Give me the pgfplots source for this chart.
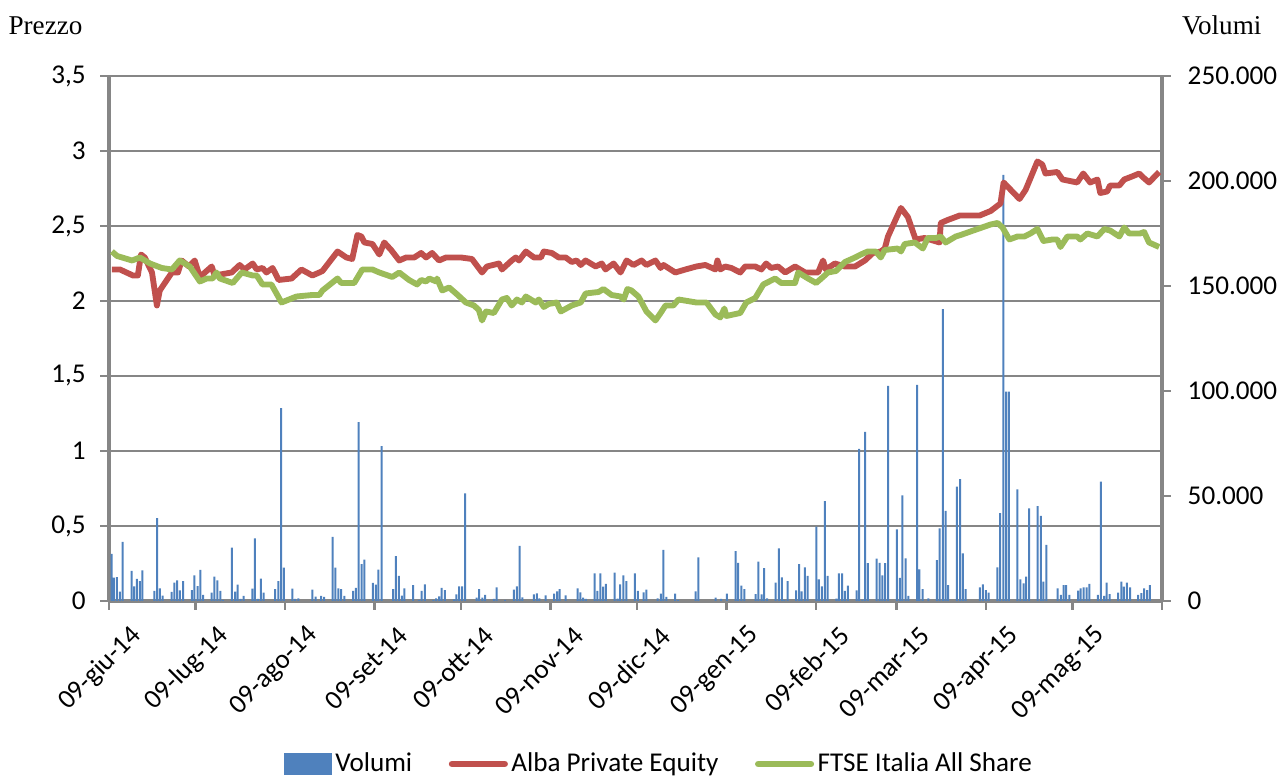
\documentclass[border=0pt]{standalone}
\usepackage{pgfplots}
\pgfplotsset{compat=1.18}
\usepackage{fontspec}
\setmainfont{Carlito}
\newfontfamily\timesfont{Liberation Serif}
\definecolor{cvol}{HTML}{4F81BD}
\definecolor{calba}{HTML}{C0504D}
\definecolor{cftse}{HTML}{9BBB59}
\definecolor{cgrid}{HTML}{868686}
\pgfplotsset{
  base/.style={
    at={(38.15pt,61.6pt)}, anchor=south west,
    scale only axis, width=368.55pt, height=183.75pt,
    xmin=0, xmax=365,
    font=\fontsize{9.5}{11}\selectfont,
    /pgf/number format/assume math mode=true,
    tick style={cgrid, line width=0.9pt},
    major tick length=3pt,
    tick align=outside,
  }
}
\begin{document}
\begin{tikzpicture}
\path[use as bounding box] (0pt,0pt) rectangle (446.95pt,271.95pt);
% axis 1: grid, left axis, x axis
\begin{axis}[base,
  ymin=0, ymax=3.5, ytick={0,0.5,...,3.5},
  /pgf/number format/use comma, /pgf/number format/fixed,
  ymajorgrids, grid style={cgrid, line width=0.75pt},
  axis x line*=bottom, axis y line*=left,
  axis line style={cgrid, line width=1.1pt, -},
  xtick={0,30,61,92,122,153,183,214,245,273,304,334,365},
  xticklabels={09-giu-14,09-lug-14,09-ago-14,09-set-14,09-ott-14,09-nov-14,09-dic-14,09-gen-15,09-feb-15,09-mar-15,09-apr-15,09-mag-15,{}},
  xticklabel style={rotate=45, anchor=east, inner sep=0pt, xshift=1.75pt, yshift=-12.5pt},
  yticklabel style={inner sep=0pt, xshift=-5pt},
]
\addplot[draw=none] coordinates {(0,0)};
\end{axis}
% axis 2: volumes, right axis
\begin{axis}[base,
  ymin=0, ymax=250000, ytick={0,50000,100000,150000,200000,250000},
  scaled y ticks=false,
  /pgf/number format/fixed, /pgf/number format/1000 sep={.},
  axis y line*=right, axis x line=none,
  axis line style={cgrid, line width=1.1pt, -},
  yticklabel style={inner sep=0pt, xshift=5.8pt},
  ybar, bar width=0.7pt,
]
\addplot[fill=cvol, draw=none] coordinates {
(0.9,22400)(1.7,11100)(2.7,11400)(3.8,4400)(4.7,28200)(7.8,14300)(8.7,7000)(9.7,10500)(10.7,9400)(11.6,14600)
(15.7,4800)(16.7,39400)(17.6,6000)(18.6,2500)(21.7,4300)(22.7,8700)(23.6,9800)(24.6,5100)(25.7,9400)
(28.7,5200)(29.6,12200)(30.7,7100)(31.7,14800)(32.6,2900)(35.6,4000)(36.5,11600)(37.6,9800)(38.6,4800)(39.6,500)
(42.6,25400)(43.7,4400)(44.6,7800)(45.6,1000)(46.7,2400)(49.7,5900)(50.6,29800)(51.6,1000)(52.6,10600)(53.6,4000)
(57.6,5600)(58.7,9400)(59.7,91800)(60.6,15900)(63.6,5900)(64.5,1000)(65.6,1300)(70.5,5400)(71.6,2100)(73.5,2400)(74.6,1900)
(77.5,30500)(78.5,15900)(79.5,6000)(80.5,5600)(81.6,2400)(84.6,4800)(85.6,6200)(86.5,85200)(87.6,17500)(88.5,19700)
(91.5,8600)(92.5,7800)(93.4,14900)(94.5,73800)(98.5,5600)(99.4,21400)(100.5,12000)(101.5,2500)(102.4,6000)
(105.4,7500)(107.4,500)(108.4,4800)(109.5,7900)(112.4,500)(113.4,1300)(114.4,2200)(115.3,6300)(116.4,5200)
(119.5,800)(120.4,3200)(121.4,7000)(122.4,7000)(123.4,51300)(127.4,1600)(128.3,5700)(129.4,1600)(130.4,2900)
(133.4,1000)(134.4,6500)(137.3,500)(140.3,5400)(141.4,7000)(142.3,26200)(143.3,1700)(147.3,3200)(148.3,3600)(149.2,1300)
(151.3,2700)(154.3,3500)(155.3,4600)(156.2,5700)(158.3,2700)(162.4,6000)(163.4,4100)(164.3,1600)(165.3,1000)
(168.3,13200)(169.3,4800)(170.3,13200)(171.3,6800)(172.2,8100)(175.3,13500)(176.3,1100)(177.2,7900)(178.3,12200)(179.3,9400)
(182.3,13200)(183.3,4800)(185.3,4100)(186.3,5400)(190.2,1300)(191.3,3500)(192.2,24300)(193.2,1900)(196.2,3500)(197.3,500)
(203.3,4600)(204.3,20800)(210.3,1600)(212.2,1000)(214.2,3500)(217.2,23700)(218.1,18200)(219.2,7300)(220.2,5600)
(224.1,3300)(225.1,18700)(226.2,3200)(227.1,15600)(228.1,1300)(231.1,8700)(232.2,25100)(233.2,11300)(234.1,500)(235.2,9400)
(238.2,5100)(239.2,17500)(240.1,4600)(241.2,16000)(242.2,11900)(245.2,35400)(246.1,10300)(247.1,7000)(248.1,47600)(249.1,11900)
(252.1,1100)(253.0,13200)(254.1,13200)(255.1,4800)(256.1,7300)(259.1,5100)(260.0,72400)(261.1,600)(262.1,80500)(263.0,18000)
(266.1,20200)(267.1,18200)(268.1,12200)(269.0,18000)(270.1,102400)(273.1,34100)(274.1,11000)(275.0,50300)(276.1,20300)(277.1,2400)
(280.1,102900)(280.9,15100)(282.0,5600)(284.0,1300)(287.0,19500)(287.9,34600)(289.0,139000)(290.0,42900)(290.9,7600)
(293.9,54400)(295.0,58000)(296.0,22700)(296.9,5600)(301.9,6500)(302.9,7900)(303.9,5200)(304.9,4000)
(307.9,16000)(308.9,41800)(310.0,202900)(311.0,99700)(311.9,99700)(314.9,53200)(315.9,10300)(317.0,8400)(317.9,11600)(318.9,44100)
(321.9,45200)(323.0,40500)(323.9,9200)(324.9,26700)(328.8,6000)(329.9,2900)(330.9,7600)(331.8,7600)(332.9,2900)
(335.9,4900)(336.8,6000)(337.8,6500)(338.9,6500)(339.8,8100)(342.8,2900)(343.8,56800)(344.9,2400)(345.8,8700)(346.8,3300)
(349.8,4000)(350.9,9200)(351.8,6800)(352.8,8700)(353.9,6500)(356.7,2900)(357.8,3700)(358.8,6000)(359.8,5200)(360.8,7600)
};
\end{axis}
% axis 3: price lines
\begin{axis}[base,
  ymin=0, ymax=3.5, hide axis,
  legend columns=-1,
  legend style={at={(axis description cs:0.1652,-0.3105)}, anchor=west,
    draw=none, fill=none, inner sep=0pt,
    font=\fontsize{9.5}{11}\selectfont,
    nodes={inner xsep=1.2pt, inner ysep=0pt},
    /tikz/every even column/.append style={column sep=11.6pt}},
]
\addlegendimage{legend image code/.code={\fill[cvol] (0pt,-3.8pt) rectangle (16.5pt,3.6pt);}}
\addlegendentry{Volumi}
\addplot[calba, line width=2.05pt, line join=round,
  legend image code/.code={\draw[calba, line width=2.2pt, line cap=round] (0pt,0pt) -- (18.5pt,0pt);}]
coordinates {
(1.0,2.21)(3.8,2.21)(8.3,2.17)(10.0,2.17)(11.1,2.31)(12.4,2.29)(14.9,2.19)(16.6,1.97)(17.6,2.07)(21.8,2.19)
(23.9,2.19)(25.2,2.27)(27.7,2.23)(29.7,2.27)(31.5,2.16)(35.6,2.23)(36.6,2.17)(42.5,2.19)(45.3,2.24)(47.0,2.21)
(49.8,2.25)(51.2,2.21)(53.2,2.22)(54.6,2.19)(56.7,2.22)(58.8,2.14)(63.3,2.15)(66.7,2.21)(70.5,2.17)(72.9,2.19)
(74.0,2.20)(79.2,2.33)(82.3,2.29)(84.3,2.28)(86.1,2.44)(87.5,2.43)(88.5,2.39)(91.3,2.38)(93.7,2.31)(95.4,2.39)
(97.8,2.34)(100.6,2.27)(103.0,2.29)(105.8,2.29)(108.2,2.32)(109.9,2.29)(112.0,2.32)(114.4,2.27)(116.8,2.29)(121.3,2.29)
(122.0,2.29)(125.8,2.28)(129.3,2.19)(131.0,2.23)(135.2,2.25)(136.2,2.21)(139.6,2.27)(141.0,2.29)(142.1,2.27)(144.5,2.33)
(147.3,2.29)(149.7,2.29)(150.7,2.33)(153.5,2.32)(155.9,2.29)(158.3,2.29)(160.4,2.26)(162.1,2.27)(163.5,2.24)(165.2,2.27)
(168.7,2.23)(170.8,2.25)(172.1,2.21)(174.9,2.25)(177.3,2.19)(179.4,2.27)(181.8,2.24)(184.6,2.27)(186.3,2.24)(189.4,2.27)
(191.2,2.22)(192.2,2.24)(196.3,2.19)(199.8,2.21)(203.6,2.23)(206.7,2.24)(210.2,2.21)(210.9,2.27)(211.9,2.21)(213.6,2.23)
(215.7,2.22)(218.8,2.19)(220.5,2.23)(224.0,2.23)(226.1,2.21)(227.8,2.25)(229.5,2.22)(231.9,2.23)(234.4,2.19)(237.8,2.23)
(241.3,2.19)(245.8,2.19)(247.5,2.27)(248.5,2.21)(251.6,2.25)(255.1,2.23)(258.6,2.23)(262.0,2.27)(264.8,2.32)(267.5,2.33)
(268.9,2.35)(270.0,2.43)(274.5,2.62)(276.9,2.56)(279.6,2.41)(282.7,2.42)(287.9,2.39)(288.3,2.52)(290.7,2.54)(294.9,2.57)
(301.8,2.57)(305.6,2.60)(309.0,2.65)(310.1,2.79)(312.1,2.75)(315.6,2.68)(317.7,2.74)(321.8,2.93)(323.5,2.91)(324.6,2.85)
(328.7,2.86)(330.5,2.81)(335.6,2.79)(337.7,2.85)(340.1,2.79)(342.6,2.81)(343.6,2.72)(346.0,2.73)(347.0,2.77)(350.2,2.77)
(351.9,2.81)(354.6,2.83)(357.1,2.85)(358.1,2.83)(360.5,2.79)(364.0,2.86)
};
\addlegendentry{Alba Private Equity}
\addplot[cftse, line width=2.05pt, line join=round,
  legend image code/.code={\draw[cftse, line width=2.2pt, line cap=round] (0pt,0pt) -- (18.5pt,0pt);}]
coordinates {
(1.0,2.33)(2.8,2.30)(8.0,2.27)(10.7,2.29)(14.2,2.25)(18.3,2.22)(21.8,2.21)(24.5,2.27)(28.0,2.23)(31.5,2.13)
(33.9,2.15)(35.9,2.15)(37.3,2.19)(38.4,2.15)(42.9,2.12)(46.0,2.19)(49.8,2.17)(51.2,2.17)(53.2,2.11)(56.3,2.11)
(59.8,1.99)(65.0,2.03)(70.5,2.04)(72.9,2.04)(74.0,2.07)(79.2,2.15)(80.5,2.12)(85.0,2.12)(87.8,2.21)(89.5,2.21)
(91.3,2.21)(93.7,2.19)(98.2,2.16)(100.6,2.19)(104.0,2.14)(106.8,2.11)(108.2,2.14)(109.9,2.13)(111.0,2.15)(113.4,2.13)
(113.7,2.15)(115.5,2.07)(117.9,2.09)(120.3,2.05)(123.7,1.99)(126.5,1.97)(128.2,1.94)(129.3,1.87)(130.7,1.93)(133.4,1.92)
(136.2,2.01)(137.9,2.02)(139.6,1.97)(141.4,2.01)(143.1,1.99)(144.5,2.03)(147.9,1.99)(149.0,2.01)(150.7,1.96)(152.4,1.98)
(155.2,1.99)(156.6,1.93)(160.4,1.97)(163.5,1.99)(165.2,2.05)(169.7,2.06)(171.4,2.08)(174.2,2.04)(177.3,2.03)(178.4,2.01)
(179.7,2.08)(181.1,2.07)(183.5,2.03)(186.3,1.93)(189.4,1.87)(191.2,1.92)(192.9,1.97)(195.6,1.97)(197.4,2.01)(203.6,1.99)
(207.1,1.99)(210.2,1.91)(211.9,1.89)(213.3,1.95)(214.0,1.90)(218.8,1.92)(220.9,1.99)(224.0,2.02)(226.8,2.11)(230.9,2.15)
(233.0,2.12)(237.8,2.12)(238.9,2.19)(242.3,2.15)(245.1,2.12)(247.5,2.16)(249.2,2.19)(252.0,2.20)(255.1,2.26)(258.6,2.29)
(260.6,2.31)(263.0,2.33)(265.8,2.33)(267.5,2.29)(268.9,2.34)(273.4,2.35)(274.5,2.33)(275.8,2.38)(279.3,2.39)(282.1,2.35)
(283.8,2.42)(286.6,2.42)(288.3,2.43)(290.0,2.39)(293.5,2.43)(295.2,2.44)(301.1,2.48)(305.6,2.51)(308.0,2.52)(309.7,2.49)
(312.1,2.41)(314.9,2.43)(317.3,2.43)(319.4,2.45)(321.8,2.48)(323.9,2.40)(327.0,2.41)(328.7,2.41)(329.8,2.36)(332.2,2.43)
(335.6,2.43)(336.7,2.41)(339.1,2.45)(342.6,2.43)(345.0,2.48)(347.0,2.47)(350.2,2.43)(351.9,2.49)(353.6,2.45)(357.4,2.45)
(358.8,2.46)(360.5,2.39)(364.0,2.36)
};
\addlegendentry{FTSE Italia All Share}
\end{axis}
\node[anchor=base west, inner sep=0pt, font=\timesfont\fontsize{9.5}{11}\selectfont] at (2.8pt,260pt) {Prezzo};
\node[anchor=base east, inner sep=0pt, font=\timesfont\fontsize{9.5}{11}\selectfont] at (441.7pt,260pt) {Volumi};
\end{tikzpicture}
\end{document}
